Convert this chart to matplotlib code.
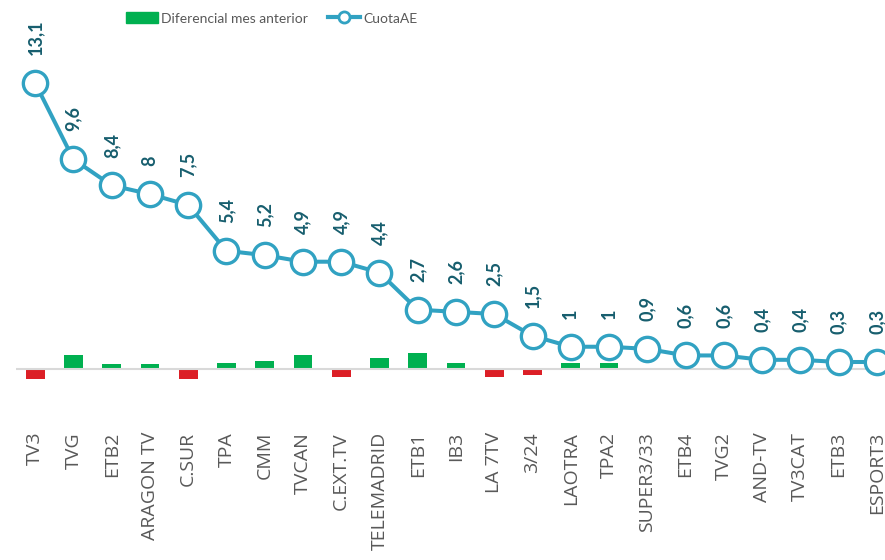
import numpy as np
import matplotlib.pyplot as plt
from matplotlib.patches import Patch
from matplotlib.lines import Line2D

# data
canales = ['TV3', 'TVG', 'ETB2', 'ARAGON TV', 'C.SUR', 'TPA', 'CMM', 'TVCAN',
           'C.EXT.TV', 'TELEMADRID', 'ETB1', 'IB3', 'LA 7TV', '3/24', 'LAOTRA',
           'TPA2', 'SUPER3/33', 'ETB4', 'TVG2', 'AND-TV', 'TV3CAT', 'ETB3', 'ESPORT3']
cuota = [13.1, 9.6, 8.4, 8, 7.5, 5.4, 5.2, 4.9, 4.9, 4.4, 2.7, 2.6, 2.5, 1.5, 1,
         1, 0.9, 0.6, 0.6, 0.4, 0.4, 0.3, 0.3]
diferencial = [-0.5, 0.6, 0.2, 0.2, -0.5, 0.25, 0.35, 0.6, -0.4, 0.5, 0.7, 0.25,
               -0.4, -0.3, 0.25, 0.25, -0.08, 0, 0, 0, 0, 0, 0]

verde = '#00B050'
rojo = '#DC1F26'
azul = '#31A2C2'
oscuro = '#175E6E'
gris = '#595959'

fig = plt.figure(figsize=(8.85, 5.6), dpi=100)
ax = fig.add_axes([16/885, 135/560, 880/885, 385/560])

x = np.arange(len(canales))
colores = [verde if d >= 0 else rojo for d in diferencial]
ax.bar(x, diferencial, width=0.49, color=colores, zorder=2)
ax.axhline(0, color='#D9D9D9', lw=1.5, zorder=2.5)
ax.plot(x, cuota, color=azul, lw=2.9, marker='o', ms=17.5, mfc='white',
        mec=azul, mew=2.4, zorder=3, clip_on=False)

for xi, v in zip(x, cuota):
    ax.annotate(f'{v:g}'.replace('.', ','), (xi, v), xytext=(0, 20),
                textcoords='offset points', rotation=90, ha='center', va='bottom',
                fontsize=13, fontweight='bold', color=oscuro, family='Lato',
                annotation_clip=False)

ax.set_xlim(-0.5, len(canales) - 0.5)
ax.set_ylim(-2.59, 15.07)
ax.set_xticks(x)
ax.set_xticklabels(canales, rotation=90, fontsize=14, color=gris, family='Open Sans')
ax.tick_params(axis='x', length=0, pad=5)
ax.set_yticks([])
for s in ax.spines.values():
    s.set_visible(False)

handles = [Patch(color=verde),
           Line2D([], [], color=azul, lw=3, marker='o', ms=8, mfc='white', mec=azul, mew=2)]
fig.legend(handles, ['Diferencial mes anterior', 'CuotaAE'], loc='center',
           bbox_to_anchor=(0.307, 0.967), ncol=2, frameon=False,
           prop={'family': 'Lato', 'size': 10}, labelcolor=gris,
           handlelength=2.3, handleheight=0.85, handletextpad=0.25, columnspacing=1.4)

fig.savefig('out.png', dpi=100)
